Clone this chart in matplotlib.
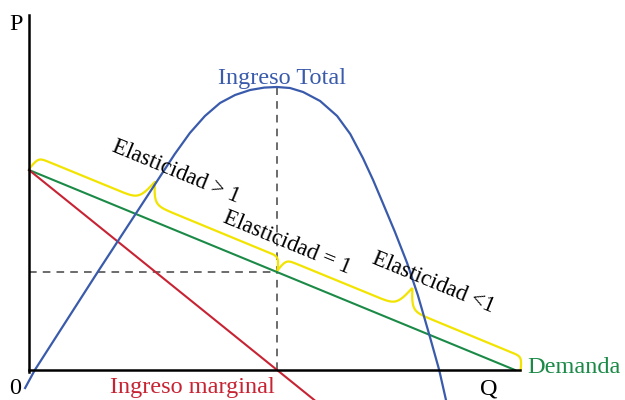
import numpy as np
import matplotlib.pyplot as plt

# curva de demanda (recta) y de ingreso marginal
dem_q = [0.0, 10.0]
dem_p = [10.0, 0.0]
img_q = [0.0, 5.87]
img_p = [10.0, -1.5]

# ingreso total, puntos
it_q = [-0.08, 0.12, 1.44, 1.83, 2.22, 2.61, 3.00, 3.31, 3.62, 3.93, 4.24, 4.55,
        4.84, 5.10, 5.37, 5.64, 5.99, 6.34, 6.61, 6.87, 7.08, 7.28, 7.53, 7.78,
        8.00, 8.25, 8.44, 8.58]
it_p = [-0.9, 0.0, 5.0, 6.45, 7.9, 9.35, 10.8, 11.85, 12.7, 13.35, 13.75, 14.0,
        14.12, 14.15, 14.1, 13.9, 13.45, 12.7, 11.8, 10.6, 9.5, 8.35, 6.9, 5.35,
        3.75, 1.65, 0.0, -1.5]

# tramos de las llaves sobre la demanda (inicio, fin, punta)
llaves = [(0.0, 5.1, 2.3), (5.1, 10.1, 7.6)]
etiquetas = ['Elasticidad > 1', 'Elasticidad = 1', 'Elasticidad <1']
etiq_q = [3.02, 5.31, 8.31]
etiq_p = [9.9, 6.35, 4.35]

azul = '#3a5bab'
rojo = '#c72333'
verde = '#1b8a47'
amarillo = '#f2e400'
serif = 'Liberation Serif'

fig = plt.figure(figsize=(6.25, 4), dpi=100)
ax = fig.add_axes([0, 0, 1, 1])
ax.set_xlim(-29 / 48.6, 596 / 48.6)
ax.set_ylim(-1.5, 18.5)
ax.axis('off')


def p_demanda(q):
    return dem_p[0] + (dem_p[1] - dem_p[0]) * (q - dem_q[0]) / (dem_q[1] - dem_q[0])


def sig(x):
    return 1 / (1 + np.exp(-x))


def llave(q0, q1, qt, h=13, h2=22, base=2, b1=0.5, b2=0.25):
    # la llave se arma en pixeles y se pasa de vuelta a datos
    tr = ax.transData
    a = tr.transform((q0, p_demanda(q0)))
    b = tr.transform((q1, p_demanda(q1)))
    t = tr.transform((qt, p_demanda(qt)))
    L = np.hypot(*(b - a))
    d = (b - a) / L
    n = np.array([-d[1], d[0]])
    st = np.dot(t - a, d)
    s = np.linspace(0, L, 400)
    u = np.where(s <= st, s, L - s)
    ut = np.where(s <= st, st, L - st)
    off = base + h * (2 * sig(b1 * u) - 1) + h2 * 2 * sig(b2 * (u - ut))
    pts = a + np.outer(s, d) + np.outer(off, n)
    return tr.inverted().transform(pts)


for q0, q1, qt in llaves:
    pts = llave(q0, q1, qt)
    ax.plot(pts[:, 0], pts[:, 1], color=amarillo, lw=1.6, zorder=2)

# ejes
ax.plot([0, 0], [-0.1, 17.75], color='black', lw=1.8, zorder=4)
ax.plot([0, 10.1], [0, 0], color='black', lw=1.8, zorder=4)

# punto de elasticidad unitaria
q_max = it_q[int(np.argmax(it_p))]
ax.plot([q_max, q_max], [0, max(it_p)], color='#444444', lw=1.1, dashes=(5, 4), zorder=1)
ax.plot([0, q_max], [p_demanda(q_max)] * 2, color='#444444', lw=1.1, dashes=(5, 4), zorder=1)

ax.plot(dem_q, dem_p, color=verde, lw=1.5, zorder=3)
ax.plot(img_q, img_p, color=rojo, lw=1.5, zorder=3)
ax.plot(it_q, it_p, color=azul, lw=1.6, zorder=3, solid_joinstyle='round')

ax.text(5.2, 14.3, 'Ingreso Total', color=azul, fontsize=17.5, family=serif,
        ha='center', va='baseline')
ax.text(3.37, -1.15, 'Ingreso marginal', color=rojo, fontsize=17.5, family=serif,
        ha='center', va='baseline')
ax.text(10.25, -0.15, 'Demanda', color=verde, fontsize=17.5, family=serif,
        ha='left', va='baseline')
ax.text(-0.27, 17.0, 'P', fontsize=17.5, family=serif, ha='center', va='baseline')
ax.text(-0.29, -1.2, '0', fontsize=17.5, family=serif, ha='center', va='baseline')
ax.text(9.47, -1.2, 'Q', fontsize=17.5, family=serif, ha='center', va='baseline')

for txt, q, p in zip(etiquetas, etiq_q, etiq_p):
    ax.text(q, p, txt, fontsize=16.3, family=serif, rotation=-22.4,
            rotation_mode='anchor', ha='center', va='center', zorder=5)

fig.savefig('out.png', dpi=100)
